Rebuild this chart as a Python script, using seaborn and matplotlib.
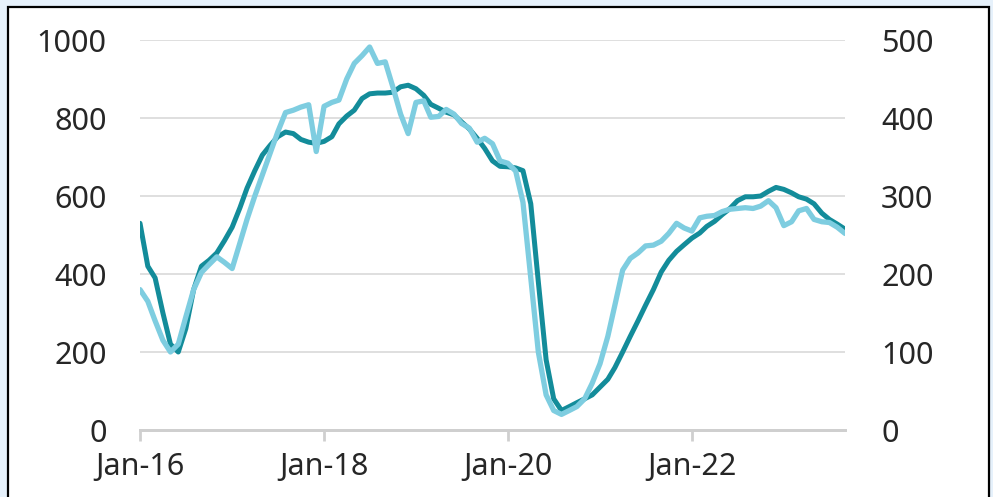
import pandas as pd
import matplotlib.pyplot as plt
import matplotlib.dates as mdates
from matplotlib.patches import Rectangle
import seaborn as sns

# monthly series, Jan 2016 - Sep 2023
start = "2016-01-01"
n_months = 93

dark_vals = [530, 420, 390, 300, 220, 200, 260, 360, 420, 435,
             454, 485, 520, 570, 620, 665, 705, 730, 752, 764,
             760, 745, 738, 735, 740, 752, 785, 805, 820, 850,
             862, 864, 864, 866, 880, 884, 875, 858, 835, 825,
             815, 808, 790, 772, 748, 722, 690, 676, 675, 672,
             665, 580, 380, 180, 80, 50, 60, 70, 80, 90,
             110, 130, 160, 200, 240, 280, 320, 360, 405, 435,
             458, 475, 492, 505, 522, 535, 552, 568, 588, 598,
             598, 600, 612, 622, 617, 608, 598, 592, 580, 556,
             540, 528, 515]

# light series is on the right axis (0-500)
light_vals = [180, 165, 140, 115, 100, 110, 145, 180, 202, 212,
              222, 215, 207, 240, 270, 300, 327, 355, 382, 407,
              410, 414, 417, 357, 415, 420, 423, 450, 470, 480,
              491, 470, 472, 440, 405, 380, 420, 422, 401, 402,
              411, 405, 393, 387, 369, 374, 367, 345, 342, 332,
              292, 195, 100, 45, 25, 20, 25, 30, 40, 60,
              85, 120, 160, 205, 220, 227, 236, 237, 242, 252,
              265, 259, 255, 272, 274, 275, 280, 283, 284, 285,
              284, 287, 294, 285, 262, 267, 281, 284, 270, 267,
              266, 260, 252]

dates = pd.date_range(start, periods=n_months, freq="MS")
df = pd.DataFrame({"date": dates, "dark": dark_vals, "light": light_vals})

dark_col = "#138c9a"
light_col = "#7ecde0"

sns.set_style("white")
plt.rcParams["font.family"] = ["Noto Sans", "DejaVu Sans"]

fig = plt.figure(figsize=(9.93, 4.97), dpi=100)
fig.patch.set_facecolor("#e6f1fb")
# white panel with black frame
frame = Rectangle((8 / 993, -0.05), 981 / 993, 1 - 7 / 497 + 0.05,
                  transform=fig.transFigure, facecolor="white",
                  edgecolor="black", linewidth=1.6, zorder=-10)
fig.add_artist(frame)

ax = fig.add_axes([140 / 993, 1 - 430 / 497, 705 / 993, 390 / 497])
ax.set_facecolor("none")
ax2 = ax.twinx()
ax2.set_facecolor("none")

sns.lineplot(data=df, x="date", y="dark", ax=ax, color=dark_col, linewidth=3.6)
sns.lineplot(data=df, x="date", y="light", ax=ax2, color=light_col, linewidth=3.8)

ax.set_ylim(0, 1000)
ax2.set_ylim(0, 500)
ax.set_yticks(range(0, 1001, 200))
ax2.set_yticks(range(0, 501, 100))
ax.set_xlim(pd.Timestamp("2016-01-01"), pd.Timestamp("2023-09-01"))

ax.xaxis.set_major_locator(mdates.YearLocator(2))
ax.xaxis.set_major_formatter(mdates.DateFormatter("%b-%y"))

ax.grid(axis="y", color="#d9d9d9", linewidth=1.2)
ax.set_axisbelow(True)

for a in (ax, ax2):
    a.set_xlabel("")
    a.set_ylabel("")
    for s in ["top", "left", "right"]:
        a.spines[s].set_visible(False)
    a.spines["bottom"].set_color("#cfcfcf")
    a.spines["bottom"].set_linewidth(2)

ax.tick_params(axis="y", length=0, pad=24, labelsize=22, labelcolor="#262626")
ax2.tick_params(axis="y", length=0, pad=26, labelsize=22, labelcolor="#262626")
ax.tick_params(axis="x", bottom=True, length=8, width=2, color="#cfcfcf", pad=8,
               labelsize=22, labelcolor="#262626", direction="out")

fig.savefig("out.png", dpi=100, facecolor=fig.get_facecolor())
